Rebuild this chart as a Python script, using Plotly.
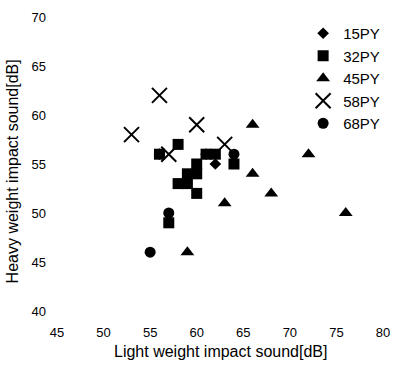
import plotly.graph_objects as go

# Light / heavy weight impact sound levels [dB] by building age group
py15_light = [56, 61, 62]
py15_heavy = [56, 56, 55]

py32_light = [56, 58, 60, 59, 60, 58, 59, 60, 61, 62, 64, 57]
py32_heavy = [56, 57, 55, 54, 54, 53, 53, 52, 56, 56, 55, 49]

py45_light = [66, 72, 66, 68, 63, 76, 59]
py45_heavy = [59, 56, 54, 52, 51, 50, 46]

py58_light = [56, 53, 60, 63, 57]
py58_heavy = [62, 58, 59, 57, 56]

py68_light = [55, 57, 64]
py68_heavy = [46, 50, 56]

x_ticks = [45, 50, 55, 60, 65, 70, 75, 80]
y_ticks = [40, 45, 50, 55, 60, 65, 70]

FONT = "Liberation Sans, Arial, sans-serif"

series = [
    ("15PY", py15_light, py15_heavy, dict(symbol="diamond", size=9)),
    ("32PY", py32_light, py32_heavy, dict(symbol="square", size=11)),
    ("45PY", py45_light, py45_heavy, dict(symbol="triangle-up", size=12)),
    ("58PY", py58_light, py58_heavy,
     dict(symbol="x-thin", size=15, line=dict(width=2, color="black"))),
    ("68PY", py68_light, py68_heavy, dict(symbol="circle", size=11)),
]

fig = go.Figure()
for name, xs, ys, mk in series:
    marker = dict(color="black", **mk)
    if "line" not in marker:
        marker["line"] = dict(width=0)
    fig.add_trace(go.Scatter(
        x=xs, y=ys, mode="markers", name=name, legendgroup=name,
        marker=marker,
    ))

axis_common = dict(
    showgrid=False, zeroline=False, showline=False, ticks="",
    tickfont=dict(family=FONT, size=13, color="black"),
)

fig.update_layout(
    width=398, height=366,
    margin=dict(l=57, r=8, t=17, b=55),
    plot_bgcolor="white", paper_bgcolor="white",
    font=dict(family=FONT, color="black"),
    xaxis=dict(range=[45, 80], tickvals=x_ticks, ticklabelstandoff=12, **axis_common),
    yaxis=dict(range=[40, 70], tickvals=y_ticks, ticklabelstandoff=10, **axis_common),
    showlegend=True,
    legend=dict(
        x=0.755, y=1.0, xanchor="left", yanchor="top",
        font=dict(family=FONT, size=15, color="black"),
        bgcolor="rgba(0,0,0,0)", tracegroupgap=0,
    ),
    annotations=[
        dict(text="Light weight impact sound[dB]", xref="paper", yref="paper",
             x=0.5, y=-0.139, xanchor="center", yanchor="middle",
             showarrow=False, font=dict(family=FONT, size=16, color="black")),
        dict(text="Heavy weight impact sound[dB]", xref="paper", yref="paper",
             x=-0.137, y=0.476, xanchor="center", yanchor="middle", textangle=-90,
             showarrow=False, font=dict(family=FONT, size=16, color="black")),
    ],
)

fig.write_html("out.html")
